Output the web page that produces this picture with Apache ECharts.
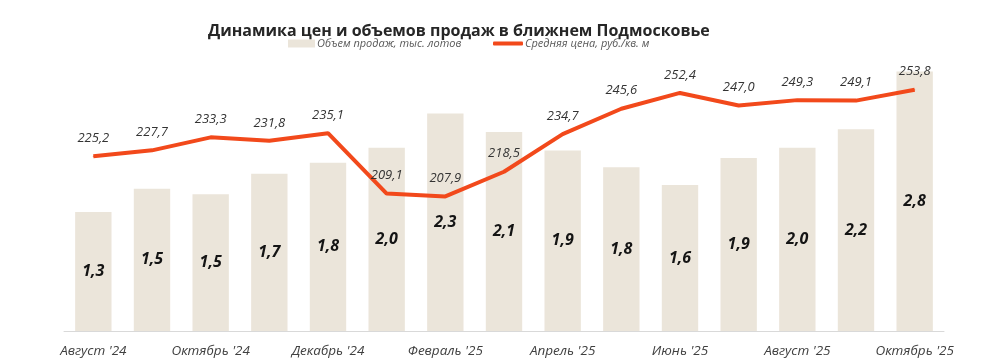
<!DOCTYPE html>
<html>
<head>
<meta charset="utf-8">
<script src="https://cdn.jsdelivr.net/npm/echarts@6/dist/echarts.min.js"></script>
<style>
html,body{margin:0;padding:0;background:#fff;}
#c{width:1001px;height:361px;}
</style>
</head>
<body>
<div id="c"></div>
<script>
const categories = ["Август '24","Сентябрь '24","Октябрь '24","Ноябрь '24","Декабрь '24","Январь '25","Февраль '25","Март '25","Апрель '25","Май '25","Июнь '25","Июль '25","Август '25","Сентябрь '25","Октябрь '25"];
const salesVolume = [1.28, 1.53, 1.47, 1.69, 1.81, 1.97, 2.34, 2.14, 1.94, 1.76, 1.57, 1.86, 1.97, 2.17, 2.79];
const avgPrice = [225.2, 227.7, 233.3, 231.8, 235.1, 209.1, 207.9, 218.5, 234.7, 245.6, 252.4, 247.0, 249.3, 249.1, 253.8];
const seriesNames = ["Объем продаж, тыс. лотов", "Средняя цена, руб./кв. м"];
const titleText = "Динамика цен и объемов продаж в ближнем Подмосковье";

const fmt = v => v.toFixed(1).replace('.', ',');
const chart = echarts.init(document.getElementById('c'));
chart.setOption({
  animation: false,
  backgroundColor: '#fff',
  title: {
    text: titleText,
    left: 203, top: 18,
    textStyle: {fontFamily: 'Open Sans', fontWeight: 'bold', fontSize: 16, color: '#262626'}
  },
  legend: [
    {
      data: [{name: seriesNames[0], icon: 'rect'}],
      left: 283, top: 33,
      itemWidth: 27, itemHeight: 8,
      textStyle: {fontFamily: 'Open Sans', fontStyle: 'italic', fontSize: 11, color: '#595959', padding: [0,0,0,-3]}
    },
    {
      data: [{name: seriesNames[1], icon: 'roundRect'}],
      left: 488, top: 33,
      itemWidth: 30, itemHeight: 4,
      textStyle: {fontFamily: 'Open Sans', fontStyle: 'italic', fontSize: 11, color: '#595959', padding: [0,0,0,-3]}
    }
  ],
  grid: {left: 64, right: 57, top: 52, bottom: 30, containLabel: false},
  xAxis: {
    type: 'category',
    data: categories,
    axisLine: {lineStyle: {color: '#d9d9d9', width: 1}},
    axisTick: {show: false},
    axisLabel: {
      interval: 1, margin: 13,
      fontFamily: 'Open Sans', fontStyle: 'italic', fontSize: 13.5, color: '#404040'
    }
  },
  yAxis: [
    {type: 'value', min: 0, max: 3, show: false, splitLine: {show: false}},
    {type: 'value', min: 150, max: 270, show: false, splitLine: {show: false}}
  ],
  series: [
    {
      name: seriesNames[0],
      type: 'bar',
      yAxisIndex: 0,
      data: salesVolume,
      barWidth: '62%',
      itemStyle: {color: '#ebe5da'},
      label: {
        show: true, position: 'inside',
        formatter: p => fmt(p.value),
        fontFamily: 'Open Sans', fontStyle: 'italic', fontWeight: 'bold', fontSize: 16, color: '#141414'
      }
    },
    {
      name: seriesNames[1],
      type: 'line',
      yAxisIndex: 1,
      data: avgPrice,
      symbol: 'circle',
      symbolSize: 1,
      showSymbol: true,
      lineStyle: {color: '#f2491b', width: 4},
      itemStyle: {color: '#f2491b'},
      label: {
        show: true, position: 'top', distance: 11,
        formatter: p => fmt(p.value),
        fontFamily: 'Open Sans', fontStyle: 'italic', fontSize: 13, color: '#333333'
      }
    }
  ]
});
</script>
</body>
</html>
